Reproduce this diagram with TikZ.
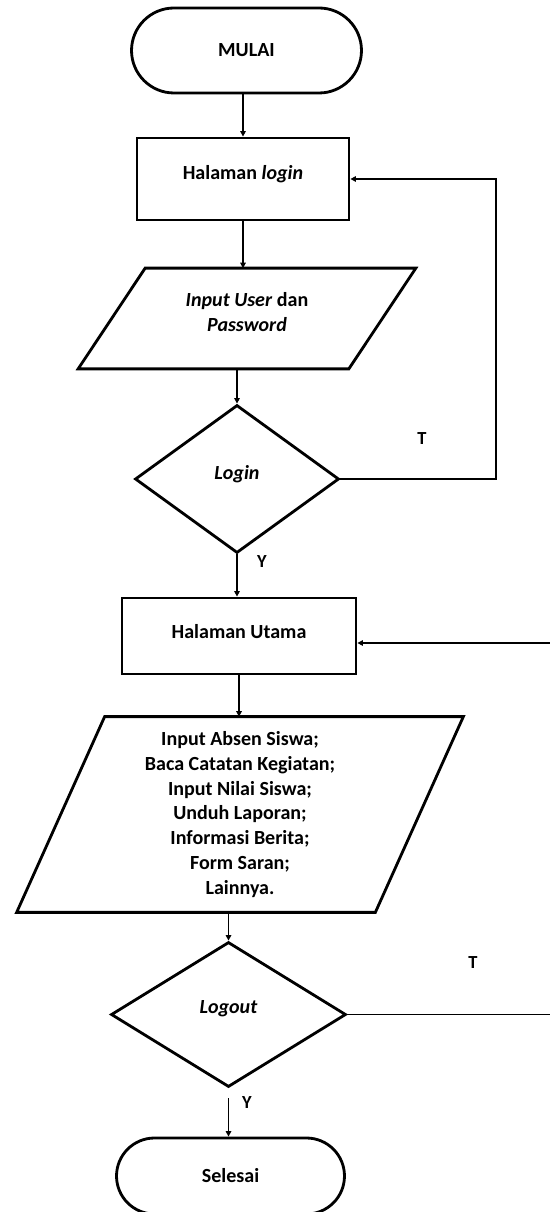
\documentclass[tikz,border=0pt]{standalone}
\usepackage{fontspec}
\setmainfont{Carlito}
\usetikzlibrary{shapes.geometric,shapes.misc,arrows.meta,calc}

% frame of a slanted input/output box drawn around an invisible node
\newcommand\slantframe[2]{%
  \draw[line width=1.6pt] ([xshift=#2]#1.north west) -- ([xshift=#2]#1.north east)
    -- ([xshift=-#2]#1.south east) -- ([xshift=-#2]#1.south west) -- cycle;}

\begin{document}
\begin{tikzpicture}[x=0.02cm,y=-0.02cm,
  font=\fontsize{11.4}{14.2}\selectfont\bfseries,
  box/.style={draw, line width=1.6pt, rectangle, inner sep=2pt, align=center},
  term/.style={draw, line width=1.6pt, rounded rectangle, inner sep=2pt, align=center},
  decide/.style={draw, line width=1.6pt, diamond, inner sep=0pt, align=center},
  io/.style={rectangle, inner sep=0pt, align=center},
  conn/.style={line width=1.1pt},
  arr/.style={conn, -{Triangle[length=0.11cm,width=0.11cm]}},
  tag/.style={font=\fontsize{10.5}{12}\selectfont\bfseries}]

\useasboundingbox (0,0) rectangle (550,1212);
\clip (0,0) rectangle (550,1212);

% process steps
\node[term, minimum width=237*0.02cm, minimum height=85*0.02cm] (mulai) at (246.5,50.5) {MULAI};
\node[box, minimum width=212*0.02cm, minimum height=82*0.02cm, text depth=0.28cm] (login) at (243,179) {Halaman \textit{login}};
\node[io, minimum width=270*0.02cm, minimum height=100*0.02cm, text depth=0.28cm] (inp) at (247,318.5) {\textit{Input User} dan\\\textit{Password}};
\slantframe{inp}{0.67cm}
\node[decide, minimum width=204*0.02cm, minimum height=148*0.02cm, text depth=0.28cm] (cek) at (237,479) {\textit{Login}};
\node[box, minimum width=234*0.02cm, minimum height=76*0.02cm, text depth=0.2cm] (utama) at (239,636) {Halaman Utama};
\node[io, minimum width=358*0.02cm, minimum height=195*0.02cm] (menu) at (240,814.5)
  {Input Absen Siswa;\\Baca Catatan Kegiatan;\\Input Nilai Siswa;\\Unduh Laporan;\\Informasi Berita;\\Form Saran;\\Lainnya.};
\slantframe{menu}{0.88cm}
\node[decide, minimum width=235*0.02cm, minimum height=145*0.02cm, text depth=0.32cm] (keluar) at (228.5,1014.5) {\textit{Logout}};
\node[term, minimum width=235*0.02cm, minimum height=76*0.02cm] (selesai) at (230.5,1176) {Selesai};

% branch labels
\node[tag] (t1) at (422,439) {T};
\node[tag] (y1) at (262,562) {Y};
\node[tag] (t2) at (473,963) {T};
\node[tag] (y2) at (247,1103) {Y};

% flow
\draw[arr] (login.north |- mulai.south) -- (login.north);
\draw[arr] (login.south) -- (login.south |- inp.north);
\draw[arr] (cek.north |- inp.south) -- (cek.north);
\draw[arr] (cek.east) -- ++(156,0) |- (login.east);
\draw[arr] (cek.south) -- (cek.south |- utama.north);
\draw[arr] (utama.south) -- (utama.south |- menu.north);
\draw[arr] (keluar.north |- menu.south) -- (keluar.north);
\draw[arr] (keluar.east) -- ++(220,0) |- ([yshift=-0.14cm]utama.east);
\draw[arr, shorten <=0.2cm] (keluar.south) -- (keluar.south |- selesai.north);
\end{tikzpicture}
\end{document}
